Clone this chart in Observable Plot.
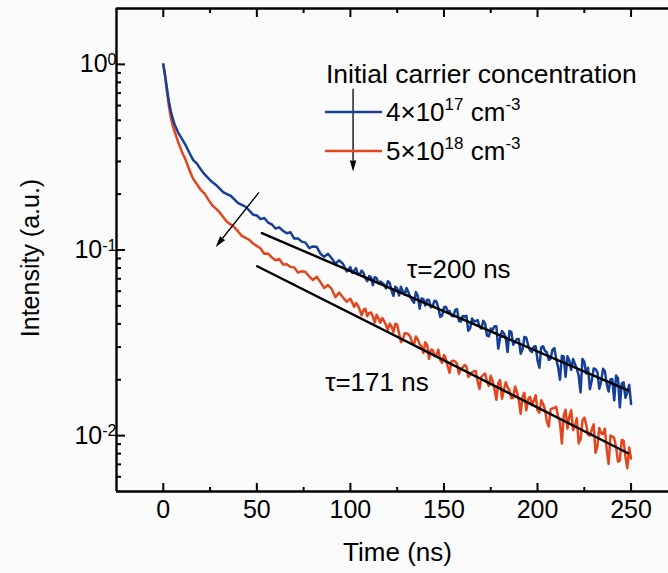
<!DOCTYPE html>
<html><head><meta charset="utf-8">
<script src="https://cdn.jsdelivr.net/npm/d3@7"></script>
<script src="https://cdn.jsdelivr.net/npm/@observablehq/plot@0.6"></script>
<style>
html,body{margin:0;padding:0;background:#fbfbfb;}
#chart{width:668px;height:573px;overflow:hidden;}
</style></head><body><div id="chart"></div>
<script>
// ---- data ----
const times = [0,1,2,3,4,5,6,7,8,10,12,14,16,18,20,22,24,26,28,30,32,34,36,38,40,42,44,46,48,
  50,52,54,56,58,60,62,64,66,68,70,72,74,76,78,80,82,84,86,88,90,92,94,96,98,
  100,102,104,106,108,110,112,114,116,118,120,122,124,126,128,130,132,134,136,138,140,142,144,146,148,
  150,152,154,156,158,160,162,164,166,168,170,172,174,176,178,180,182,184,186,188,190,192,194,196,198,
  200,202,204,206,208,210,212,214,216,218,220,222,224,226,228,230,232,234,236,238,240,242,244,246,248,250];

const blueIntensity = [1.0,0.865,0.735,0.631,0.562,0.513,0.476,0.452,0.428,0.397,0.366,0.333,0.305,0.292,0.272,0.256,0.244,0.233,0.225,0.215,0.205,0.200,0.196,0.1875,0.179,0.175,0.171,0.163,0.155,
  0.1535,0.1466,0.1486,0.1406,0.1374,0.1306,0.1324,0.1268,0.1230,0.1245,
  0.1153,0.1153,0.1109,0.1096,0.1023,0.1045,0.1040,0.0955,0.0918,0.0955,
  0.0902,0.0843,0.0879,0.0843,0.0767,0.0809,0.0773,0.0740,0.0774,0.0706,
  0.0723,0.0646,0.0706,0.0676,0.0650,0.0679,0.0605,0.0635,0.0569,0.0598,
  0.0624,0.0558,0.0519,0.0568,0.0548,0.0502,0.0538,0.0499,0.0528,0.0436,
  0.0490,0.0468,0.0443,0.0475,0.0414,0.0441,0.0442,0.0379,0.0412,0.0419,
  0.0377,0.0401,0.0343,0.0372,0.0388,0.0335,0.0356,0.0282,0.0362,0.0321,
  0.0332,0.0292,0.0337,0.0288,0.0301,0.0255,0.0300,0.0286,0.0256,0.0290,
  0.0259,0.0200,0.0267,0.0268,0.0226,0.0243,0.0210,0.0259,0.0216,0.0178,
  0.0230,0.0220,0.0195,0.0222,0.0173,0.0201,0.0211,0.0142,0.0194,0.0171,
  0.0148];

const redIntensity = [1.0,0.865,0.708,0.596,0.519,0.468,0.437,0.407,0.380,0.337,0.305,0.269,0.241,0.226,0.211,0.202,0.1875,0.175,0.1675,0.160,0.1507,0.142,0.1374,0.1325,0.1259,0.119,0.1161,0.1135,0.1084,
  0.1050,0.1019,0.0955,0.0957,0.0912,0.0881,0.0895,0.0836,0.0839,0.0811,
  0.0805,0.0757,0.0769,0.0762,0.0719,0.0689,0.0718,0.0671,0.0624,0.0647,
  0.0617,0.0557,0.0590,0.0557,0.0527,0.0546,0.0494,0.0501,0.0445,0.0483,
  0.0458,0.0438,0.0448,0.0406,0.0415,0.0372,0.0387,0.0401,0.0356,0.0328,
  0.0356,0.0342,0.0310,0.0330,0.0303,0.0318,0.0259,0.0289,0.0273,0.0256,
  0.0272,0.0236,0.0251,0.0251,0.0215,0.0233,0.0236,0.0213,0.0222,0.0196,
  0.0207,0.0216,0.0185,0.0197,0.0156,0.0199,0.0176,0.0182,0.0159,0.0184,
  0.0156,0.0163,0.0137,0.0162,0.0154,0.0137,0.0155,0.0138,0.0112,0.0140,
  0.0143,0.0118,0.0128,0.0109,0.0137,0.0112,0.00908,0.0120,0.0115,0.0100,
  0.0115,0.00875,0.0103,0.0109,0.00703,0.00991,0.00865,0.00735,0.00940,0.00668,
  0.00752];

// extra samples between the ones above (odd nanoseconds, noisy tail)
const timesFine = [101,103,105,107,109,111,113,115,117,119,121,123,125,127,129,131,133,135,137,139,
  141,143,145,147,149,151,153,155,157,159,161,163,165,167,169,171,173,175,177,179,
  181,183,185,187,189,191,193,195,197,199,201,203,205,207,209,211,213,215,217,219,
  221,223,225,227,229,231,233,235,237,239,241,243,245,247,249];

const blueIntensityFine = [0.0755,0.0798,0.0740,0.0752,0.0679,0.0714,0.0714,0.0662,0.0665,0.0621,
  0.0664,0.0566,0.0621,0.0634,0.0575,0.0593,0.0538,0.0593,0.0483,0.0543,
  0.0540,0.0491,0.0533,0.0488,0.0444,0.0495,0.0469,0.0439,0.0480,0.0412,
  0.0437,0.0367,0.0428,0.0414,0.0386,0.0416,0.0346,0.0378,0.0388,0.0294,
  0.0366,0.0337,0.0366,0.0309,0.0332,0.0276,0.0340,0.0307,0.0282,0.0303,
  0.0232,0.0303,0.0281,0.0260,0.0296,0.0234,0.0269,0.0207,0.0253,0.0259,
  0.0230,0.0171,0.0250,0.0232,0.0198,0.0228,0.0179,0.0229,0.0189,0.0201,
  0.0155,0.0204,0.0191,0.0160,0.0188];

const redIntensityFine = [0.0522,0.0518,0.0476,0.0475,0.0440,0.0461,0.0406,0.0428,0.0430,0.0394,
  0.0401,0.0361,0.0395,0.0319,0.0356,0.0352,0.0317,0.0342,0.0310,0.0279,
  0.0309,0.0290,0.0268,0.0290,0.0247,0.0259,0.0218,0.0253,0.0244,0.0228,
  0.0240,0.0207,0.0220,0.0223,0.0179,0.0212,0.0195,0.0210,0.0178,0.0191,
  0.0158,0.0194,0.0175,0.0160,0.0172,0.0131,0.0170,0.0157,0.0146,0.0165,
  0.0133,0.0148,0.0119,0.0139,0.0141,0.0126,0.00908,0.0138,0.0127,0.0107,
  0.0124,0.00955,0.0125,0.0101,0.0108,0.00809,0.0110,0.0102,0.00838,0.0100,
  0.00968,0.00724,0.00948,0.00767,0.00863];

const fitBlueTimes = [52.7, 248.4];
const fitBlueValues = [0.1233, 0.01754];
const fitRedTimes = [50.2, 248.4];
const fitRedValues = [0.0817, 0.00804];

const tauLabels = ["τ=200 ns", "τ=171 ns"];
const tauTimes = [130.3, 86.5];
const tauValues = [0.0785, 0.0193];

const arrowStartTimes = [51.4, 101.7];
const arrowStartValues = [0.203, 0.735];
const arrowEndTimes = [28.3, 101.7];
const arrowEndValues = [0.1033, 0.263];

const legendTitle = "Initial carrier concentration";
const legendMantissa = ["4×10", "5×10"];
const legendExponent = ["17", "18"];
const legendUnit = " cm";
const legendUnitExponent = "-3";

const xMajorTicks = [0, 50, 100, 150, 200, 250];
const xMinorTicks = [25, 75, 125, 175, 225];
const yMajorTicks = [1, 0.1, 0.01];
const yMinorTicks = [0.006,0.007,0.008,0.009,0.02,0.03,0.04,0.05,0.06,0.07,0.08,0.09,0.2,0.3,0.4,0.5,0.6,0.7,0.8,0.9];

const xLabel = "Time (ns)";
const yLabel = "Intensity (a.u.)";

// ---- styles ----
const BLUE = "#163f98";
const RED = "#e3461d";
const FONT = "'Liberation Sans', Arial, sans-serif";

const toRows = (ts, vs) => ts.map((t, i) => ({t, v: vs[i]}));
const byTime = (a, b) => a.t - b.t;
const blueRows = toRows(times, blueIntensity).concat(toRows(timesFine, blueIntensityFine)).sort(byTime);
const redRows = toRows(times, redIntensity).concat(toRows(timesFine, redIntensityFine)).sort(byTime);
const fitBlueRows = toRows(fitBlueTimes, fitBlueValues);
const fitRedRows = toRows(fitRedTimes, fitRedValues);
const tauRows = tauLabels.map((s, i) => ({s, t: tauTimes[i], v: tauValues[i]}));

function arrowsMark(index, scales) {
  const g = d3.create("svg:g");
  for (let i = 0; i < arrowStartTimes.length; i++) {
    const x1 = scales.x(arrowStartTimes[i]), y1 = scales.y(arrowStartValues[i]);
    const x2 = scales.x(arrowEndTimes[i]), y2 = scales.y(arrowEndValues[i]);
    const a = Math.atan2(y2 - y1, x2 - x1), L = 11, w = 3.2;
    const bx = x2 - L * Math.cos(a), by = y2 - L * Math.sin(a);
    g.append("line").attr("x1", x1).attr("y1", y1).attr("x2", bx).attr("y2", by)
      .attr("stroke", "black").attr("stroke-width", 1.3);
    g.append("path")
      .attr("d", `M${x2},${y2}L${bx + w * Math.sin(a)},${by - w * Math.cos(a)}L${bx - w * Math.sin(a)},${by + w * Math.cos(a)}Z`)
      .attr("fill", "black");
  }
  return g.node();
}

function legendMark(index, scales, values, dims) {
  const ox = dims.marginLeft + 209, oy = dims.marginTop;
  const g = d3.create("svg:g").attr("font-family", FONT).attr("fill", "black").attr("text-anchor", "start");
  g.append("text").attr("x", ox + 1).attr("y", oy + 75).attr("font-size", 26.5).text(legendTitle);
  const colors = [BLUE, RED];
  legendMantissa.forEach((m, i) => {
    const ly = oy + 104 + i * 39;
    g.append("line").attr("x1", ox).attr("x2", ox + 57).attr("y1", ly).attr("y2", ly)
      .attr("stroke", colors[i]).attr("stroke-width", 2.4);
    const t = g.append("text").attr("x", ox + 61).attr("y", ly + 9).attr("font-size", 26);
    t.append("tspan").text(m);
    t.append("tspan").attr("dy", -11).attr("font-size", 17).text(legendExponent[i]);
    t.append("tspan").attr("dy", 11).attr("font-size", 26).text(legendUnit);
    t.append("tspan").attr("dy", -11).attr("font-size", 17).text(legendUnitExponent);
  });
  return g.node();
}

const chart = Plot.plot({
  width: 668, height: 573,
  marginTop: 8, marginBottom: 82, marginLeft: 116, marginRight: 0,
  style: {background: "transparent", fontFamily: FONT, color: "black"},
  x: {domain: [-25, 270]},
  y: {type: "log", domain: [0.005, 2]},
  marks: [
    Plot.line(redRows, {x: "t", y: "v", stroke: RED, strokeWidth: 2.5}),
    Plot.line(blueRows, {x: "t", y: "v", stroke: BLUE, strokeWidth: 2.5}),
    Plot.line(fitBlueRows, {x: "t", y: "v", stroke: "black", strokeWidth: 2.4}),
    Plot.line(fitRedRows, {x: "t", y: "v", stroke: "black", strokeWidth: 2.4}),
    Plot.text(tauRows, {x: "t", y: "v", text: "s", textAnchor: "start", fontSize: 26, fill: "black"}),
    arrowsMark,
    legendMark,
    Plot.ruleX([-25], {strokeWidth: 2.4}),
    Plot.ruleY([0.005, 2], {strokeWidth: 2.4}),
    Plot.axisX(xMajorTicks, {anchor: "bottom", tickSize: -8, tickPadding: 17, fontSize: 25, label: null, strokeWidth: 2}),
    Plot.axisX(xMinorTicks, {anchor: "bottom", tickSize: -4, tickFormat: () => "", label: null, strokeWidth: 2}),
    Plot.axisX(xMajorTicks, {anchor: "top", tickSize: -8, tickFormat: () => "", label: null, strokeWidth: 2}),
    Plot.axisX(xMinorTicks, {anchor: "top", tickSize: -4, tickFormat: () => "", label: null, strokeWidth: 2}),
    Plot.axisY(yMajorTicks, {anchor: "left", tickSize: -9, tickPadding: 9, fontSize: 25, label: null, strokeWidth: 2,
      tickFormat: d => "10^" + Math.round(Math.log10(d))}),
    Plot.axisY(yMinorTicks, {anchor: "left", tickSize: -5, tickFormat: () => "", label: null, strokeWidth: 2}),
    Plot.text([xLabel], {frameAnchor: "bottom", textAnchor: "middle", lineAnchor: "middle", dx: 5, dy: 61, fontSize: 26, fill: "black"}),
    Plot.text([yLabel], {frameAnchor: "left", textAnchor: "middle", lineAnchor: "middle", dx: -86, dy: 8, rotate: -90, fontSize: 25, fill: "black"})
  ]
});

d3.select(chart).selectAll('g[aria-label="y-axis tick label"] text').each(function () {
  const s = this.textContent;
  if (!s.includes("^")) return;
  const [b, e] = s.split("^");
  const t = d3.select(this);
  t.text(b);
  t.append("tspan").attr("dy", "-0.45em").attr("font-size", "16px").text(e);
});

document.getElementById("chart").appendChild(chart);
</script>
</body></html>
